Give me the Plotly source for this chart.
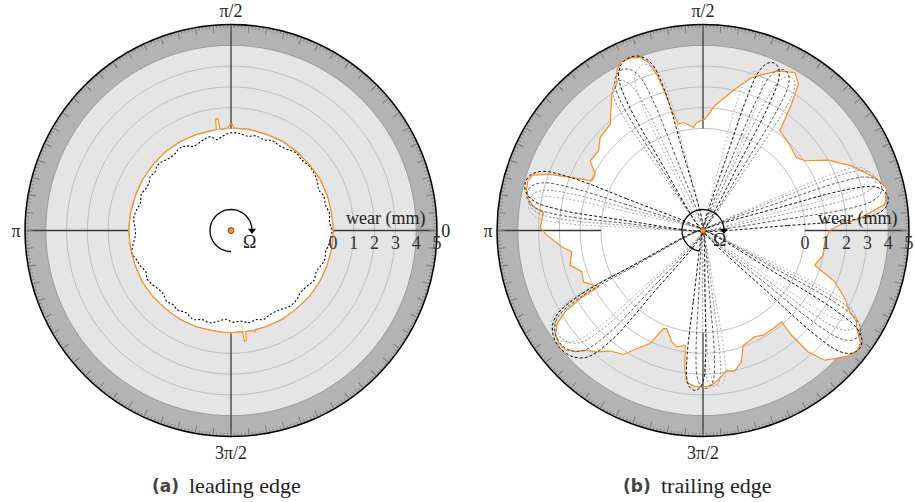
import plotly.graph_objects as go

# wear 0 sits 102 px from the pole, 5 mm on the rim (206 px)
PX_PER_MM = 20.8
R_POLE = -102 / PX_PER_MM

SERIF = 'Liberation Serif, DejaVu Serif, serif'
ORANGE = '#ff8c1a'
BAND = '#b3b3b3'
FIELD = '#e5e5e5'

# (a) leading edge: measured wear (deg, mm)
lead_theta = [0, 10, 20, 30, 40, 50, 60, 70, 80, 86, 88.5, 89.3, 90.3, 91.5, 93,
              96.2, 96.7, 97.8, 98.3, 100, 110, 120, 130, 140, 150, 160, 170, 180,
              190, 200, 210, 220, 230, 240, 250, 260, 265, 269.3, 270, 270.8, 275,
              276.5, 276.9, 277.9, 278.3, 282, 283.3, 284.3, 290, 300, 310, 320,
              330, 340, 350, 360]
lead_wear = [0.02, 0.0, 0.03, 0.05, 0.02, 0.04, 0.06, 0.03, 0.05, 0.02, 0.03, 0.2,
             0.22, 0.06, 0.0, 0.0, 0.5, 0.5, 0.0, -0.02, 0.0, 0.02, 0.03, 0.0, 0.0,
             -0.02, 0.0, 0.02, -0.01, 0.0, 0.03, 0.02, 0.0, 0.02, 0.02, -0.02, 0.0,
             0.0, 0.08, 0.0, -0.02, 0.0, 0.45, 0.45, 0.0, 0.02, 0.1, 0.0, 0.02, 0.03,
             0.0, 0.02, 0.03, 0.01, 0.02, 0.02]

# (a) leading edge: simulated wear (dotted)
lead_sim_theta = [0, 5, 10, 15, 20, 25, 30, 35, 40, 45, 50, 55, 60, 65, 70, 75, 80,
                  85, 90, 95, 99, 102, 105, 109, 114, 118, 122, 127, 132, 136, 139,
                  143, 146, 150, 154, 158, 163, 168, 173, 178, 183, 188, 193, 197,
                  201, 206, 210, 213, 218, 223, 228, 232, 236, 241, 247, 252, 257,
                  262, 267, 271, 276, 281, 286, 290, 295, 302, 307, 313, 318, 324,
                  329, 334, 338, 343, 347, 352, 356, 360]
lead_sim_wear = [-0.05, -0.15, -0.1, -0.2, -0.15, -0.25, -0.12, -0.05, -0.03, -0.1,
                 -0.03, -0.15, -0.21, -0.15, -0.26, -0.2, -0.3, -0.22, -0.21, -0.35,
                 -0.48, -0.3, -0.3, -0.4, -0.47, -0.3, -0.24, -0.35, -0.31, -0.2,
                 -0.19, -0.3, -0.23, -0.35, -0.34, -0.25, -0.35, -0.25, -0.19, -0.28,
                 -0.3, -0.15, -0.02, -0.15, -0.22, -0.35, -0.25, -0.28, -0.4, -0.44,
                 -0.3, -0.38, -0.3, -0.4, -0.26, -0.4, -0.35, -0.5, -0.63, -0.5,
                 -0.52, -0.4, -0.45, -0.35, -0.45, -0.43, -0.3, -0.31, -0.42, -0.37,
                 -0.25, -0.35, -0.28, -0.18, -0.24, -0.15, -0.1, -0.05]

# (b) trailing edge: measured wear (deg, mm)
trail_theta = [0, 1.3, 2.6, 4.2, 8.2, 13.2, 17.1, 23.5, 29.3, 34.4, 38, 45.9, 52.4,
               55, 56.9, 59.8, 64.8, 72.4, 77.3, 84.6, 89, 93.3, 95.3, 100.2, 103,
               104.5, 105.5, 106.5, 108, 110, 113, 116, 118.5, 120.5, 123.8, 131.1,
               137.9, 142.7, 148.3, 152.4, 155.9, 158.2, 160, 162, 164, 167, 170, 172,
               173.6, 179, 181.7, 186.6, 189.2, 194.6, 198.8, 203.2, 208.3, 209,
               210.5, 212.5, 215, 218, 221, 223.5, 225.5, 228.8, 232.4, 237.3, 240.7,
               245, 248, 249.7, 254.3, 257.3, 261.2, 262.5, 264, 267, 270, 273, 276,
               279.5, 282.7, 286.3, 289.3, 296, 299.9, 305.6, 310.7, 310.2, 310.9,
               313.2, 315.8, 319, 322, 324.5, 326, 328, 329.3, 331, 334.4, 338.7,
               342.8, 348.4, 354.7, 360]
trail_wear = [1.19, 1.43, 1.76, 2.58, 3.93, 4.16, 3.74, 2.88, 2.0, 1.03, 0.8, 0.99,
              1.15, 2.51, 3.49, 3.88, 3.58, 2.81, 2.06, 1.12, 0.45, 0.3, 0.07, 0.37,
              0.34, 1.0, 2.0, 2.9, 3.6, 3.95, 4.1, 4.1, 3.8, 3.26, 2.98, 1.88, 1.76,
              1.41, 1.47, 0.94, 0.95, 1.97, 3.0, 3.7, 3.85, 3.8, 3.6, 3.3, 2.81, 2.92,
              2.61, 1.93, 1.49, 1.7, 1.25, 1.35, 0.8, 1.8, 2.8, 3.4, 3.75, 3.9, 3.85,
              3.55, 3.17, 2.85, 2.41, 2.18, 1.6, 1.09, 0.18, 0.12, 0.65, 0.83, 0.68,
              1.8, 2.45, 2.6, 2.62, 2.55, 2.3, 1.91, 2.03, 1.67, 0.94, 0.78, 0.9,
              0.89, 0.89, 1.69, 2.82, 3.65, 3.93, 4.3, 4.5, 4.4, 4.1, 3.8, 3.68, 3.16,
              2.66, 1.9, 0.72, 0.99, 0.98, 1.19]

# (b) simulated lobes: (tip angle deg, reach from pole px, half width deg)
lobes_light = [(110, 176, 7), (71, 168, 5), (19, 176, 5.5), (172, 176, 6),
               (215, 182, 9), (276, 156, 4.5), (330, 172, 5.5)]
lobes_gray = [(120, 172, 6), (60, 177, 5), (17, 180, 6), (170, 176, 6.5),
              (216, 178, 10), (274, 156, 4.5), (328, 180, 6)]
lobes_dark = [(117, 180, 7), (63, 180, 5.5), (14, 184, 6.5), (168, 180, 7),
              (218, 182, 11), (271, 158, 5), (326, 188, 6.5)]
lobes_black = [(113, 188, 9), (67, 182, 5.5), (10, 188, 7), (165, 184, 8),
               (219, 185, 13), (267, 160, 5), (323, 196, 7)]
lobe_styles = [(lobes_light, '#b4b4b4', '2px,2px'), (lobes_gray, '#8c8c8c', '2px,2px'),
               (lobes_dark, '#555555', '3px,2px'), (lobes_black, '#111111', '3px,2px')]

# shape of one lobe: offset in half widths, share of the reach
LOBE_U = [-1, -0.95, -0.85, -0.65, -0.35, 0, 0.35, 0.65, 0.85, 0.95, 1]
LOBE_F = [0, 0.45, 0.78, 0.93, 0.985, 1, 0.985, 0.93, 0.78, 0.45, 0]

grid_wear = [0, 1, 2, 3]
radial_ticks = [0, 1, 2, 3, 4, 5]
angle_labels = {0: '0', 90: 'π/2', 180: 'π', 270: '3π/2'}

CIRCLE = list(range(0, 361, 3))
Y_DOM = [65 / 502, 478 / 502]


def px_to_r(px):
    return px / PX_PER_MM + R_POLE


def add_dial(fig, sp, wear_theta, wear):
    # light field up to 4 mm, the rest is the darker band (polar bg)
    fig.add_trace(go.Scatterpolar(
        r=[4] * len(CIRCLE), theta=CIRCLE, mode='lines', fill='toself',
        fillcolor=FIELD, line=dict(color='#9a9a9a', width=1), subplot=sp))
    # worn area
    fig.add_trace(go.Scatterpolar(
        r=wear, theta=wear_theta, mode='lines', fill='toself', fillcolor='white',
        line=dict(width=0, color='white'), subplot=sp))
    for g in grid_wear:
        fig.add_trace(go.Scatterpolar(
            r=[g] * len(CIRCLE), theta=CIRCLE, mode='lines',
            line=dict(color='#b9b9b9', width=0.9), subplot=sp))
    for a in angle_labels:
        fig.add_trace(go.Scatterpolar(
            r=[0, 5], theta=[a, a], mode='lines',
            line=dict(color='#3a3a3a', width=1.3), subplot=sp))
    minor_r, minor_t = [], []
    for d in range(360):
        if d % 5:
            minor_r += [5 - 3.5 / PX_PER_MM, 5, None]
            minor_t += [d, d, None]
    fig.add_trace(go.Scatterpolar(
        r=minor_r, theta=minor_t, mode='lines',
        line=dict(color='#7a7a7a', width=0.8), subplot=sp))


def add_rotor(fig, sp, arc_start):
    arc_t = list(range(arc_start, 0, -12)) + [2]
    arc_r = [px_to_r(21)] * len(arc_t)
    fig.add_trace(go.Scatterpolar(
        r=arc_r, theta=arc_t, mode='lines',
        line=dict(color='black', width=1.3, shape='spline'), subplot=sp))
    fig.add_trace(go.Scatterpolar(
        r=[px_to_r(21)], theta=[0], mode='markers',
        marker=dict(symbol='triangle-down', size=7, color='black'), subplot=sp))
    fig.add_trace(go.Scatterpolar(
        r=[R_POLE], theta=[0], mode='markers',
        marker=dict(size=6, color=ORANGE, line=dict(color='#663300', width=0.8)),
        subplot=sp))


fig = go.Figure()

# (a) leading edge
add_dial(fig, 'polar', lead_theta, lead_wear)
fig.add_trace(go.Scatterpolar(
    r=lead_sim_wear, theta=lead_sim_theta, mode='lines',
    line=dict(color='black', width=1.1, dash='2px,2px', shape='spline'), subplot='polar'))
fig.add_trace(go.Scatterpolar(
    r=lead_wear, theta=lead_theta, mode='lines',
    line=dict(color=ORANGE, width=1.2), subplot='polar'))
add_rotor(fig, 'polar', 270)

# (b) trailing edge
add_dial(fig, 'polar2', trail_theta, trail_wear)
fig.add_trace(go.Scatterpolar(
    r=trail_wear, theta=trail_theta, mode='lines',
    line=dict(color=ORANGE, width=1.2), subplot='polar2'))
for lobes, color, dash in lobe_styles:
    for tip, reach, half in lobes:
        fig.add_trace(go.Scatterpolar(
            r=[px_to_r(reach * f) for f in LOBE_F],
            theta=[tip + u * half for u in LOBE_U], mode='lines',
            line=dict(color=color, width=1, dash=dash, shape='spline', smoothing=1),
            subplot='polar2'))
add_rotor(fig, 'polar2', 260)


def polar_layout(x0, x1, labels):
    tickvals = list(range(0, 360, 5))
    return dict(
        domain=dict(x=[x0 / 915, x1 / 915], y=Y_DOM),
        bgcolor=BAND,
        radialaxis=dict(
            range=[R_POLE, 5], angle=0, tickangle=0, tickmode='array',
            tickvals=radial_ticks, ticktext=[str(v) for v in radial_ticks],
            showgrid=False, showline=False, ticks='',
            tickfont=dict(family=SERIF, size=18, color='#333333')),
        angularaxis=dict(
            direction='counterclockwise', rotation=0, tickmode='array',
            tickvals=tickvals, ticktext=[labels.get(v, '') for v in tickvals],
            ticks='inside', ticklen=7, tickcolor='#7a7a7a', tickwidth=0.8,
            showgrid=False, showline=True, linecolor='black', linewidth=1.5,
            tickfont=dict(family=SERIF, size=18, color='#222222')),
    )


# the right dial runs into the page edge, so its "0" is cut away
right_labels = {k: v for k, v in angle_labels.items() if k != 0}

serif_18 = dict(family=SERIF, size=18, color='#222222')
serif_22 = dict(family=SERIF, size=22, color='#222222')
sans_bold = dict(family='DejaVu Sans', size=17, color='#444444')

fig.update_layout(
    width=915, height=502, showlegend=False,
    margin=dict(l=0, r=0, t=0, b=0),
    paper_bgcolor='white',
    polar=polar_layout(25, 437, angle_labels),
    polar2=polar_layout(497, 909, right_labels),
    annotations=[
        dict(x=385 / 915, y=1 - 218 / 502, text='wear (mm)', font=serif_18),
        dict(x=857 / 915, y=1 - 218 / 502, text='wear (mm)', font=serif_18),
        dict(x=249.5 / 915, y=1 - 241.5 / 502, text='Ω', font=serif_18),
        dict(x=719 / 915, y=1 - 240 / 502, text='Ω', font=serif_18),
        dict(x=165 / 915, y=1 - 486 / 502, text='<b>(a)</b>', font=sans_bold),
        dict(x=187 / 915, y=1 - 485 / 502, text='leading edge', xanchor='left',
             font=serif_22),
        dict(x=637 / 915, y=1 - 486 / 502, text='<b>(b)</b>', font=sans_bold),
        dict(x=659 / 915, y=1 - 485 / 502, text='trailing edge', xanchor='left',
             font=serif_22),
    ],
)
for ann in fig.layout.annotations:
    ann.xref = 'paper'
    ann.yref = 'paper'
    ann.showarrow = False
    ann.yanchor = 'middle'
    if ann.xanchor is None:
        ann.xanchor = 'center'

fig.write_html('out.html', config={'displayModeBar': False},
               post_script="document.body.style.margin='0px';")
